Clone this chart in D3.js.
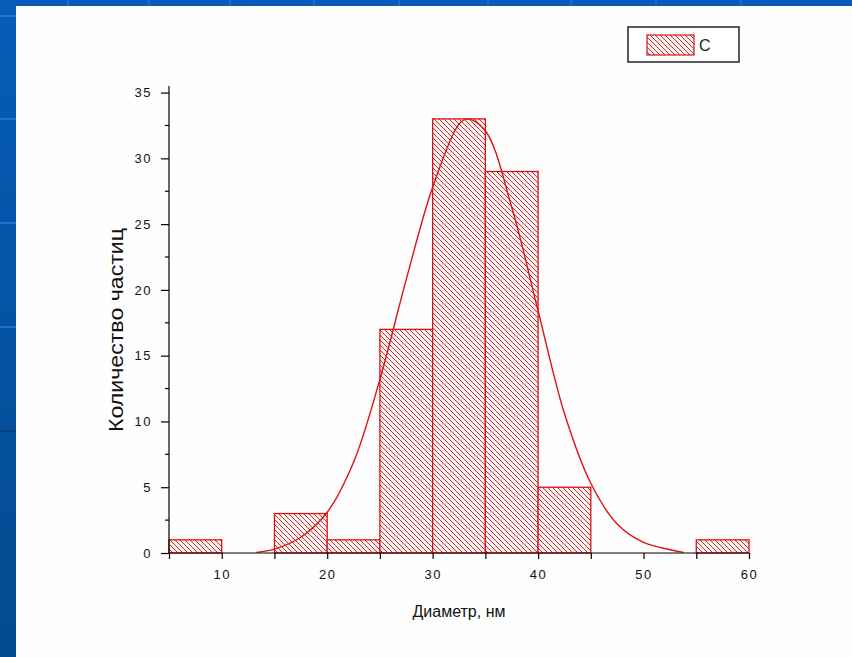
<!DOCTYPE html>
<html>
<head>
<meta charset="utf-8">
<script src="https://cdn.jsdelivr.net/npm/d3@7"></script>
<style>
  html, body { margin: 0; padding: 0; background: #0552a8; }
  svg { display: block; font-family: "Liberation Sans", Arial, sans-serif; }
</style>
</head>
<body>
<div id="chart"></div>
<script>
// histogram bins (left edge, right edge, count)
const binStarts = [5, 10, 15, 20, 25, 30, 35, 40, 45, 50, 55];
const binWidth = 5;
const counts = [1, 0, 3, 1, 17, 33, 29, 5, 0, 0, 1];

// fitted curve, points
const curveX = [13.3, 15, 17.5, 20, 22.5, 25, 27.5, 30, 32.5, 33.3, 35, 37.5, 40, 42.5, 45, 47.5, 50, 52.5, 53.8];
const curveY = [0.05, 0.3, 1.2, 3.1, 6.9, 13.2, 20.8, 27.8, 32.6, 33.0, 32.1, 26.3, 18.4, 10.6, 5.3, 2.2, 0.8, 0.25, 0.05];

const xTickLabels = [10, 20, 30, 40, 50, 60];
const yTickLabels = [0, 5, 10, 15, 20, 25, 30, 35];
const legendLabel = "C";
const xTitle = "Диаметр, нм";
const yTitle = "Количество частиц";

const W = 852, H = 657;
const RED = "#e01010";
const FONT = "\"Liberation Sans\", Arial, sans-serif";

const svg = d3.select("#chart").append("svg").attr("width", W).attr("height", H);
const defs = svg.append("defs");

// slide background
const bg = defs.append("linearGradient").attr("id", "bg").attr("x1", 0).attr("y1", 0).attr("x2", 0).attr("y2", 1);
bg.append("stop").attr("offset", "0%").attr("stop-color", "#065cb8");
bg.append("stop").attr("offset", "100%").attr("stop-color", "#044a8e");
svg.append("rect").attr("width", W).attr("height", H).attr("fill", "url(#bg)");
[15, 118, 222, 326].forEach(y => svg.append("rect").attr("x", 0).attr("y", y).attr("width", 16).attr("height", 2).attr("fill", "#1a74d2"));
svg.append("rect").attr("x", 0).attr("y", 430).attr("width", 16).attr("height", 2).attr("fill", "#033f7c");
[67, 148, 229, 313, 398, 487, 570, 655, 740].forEach(x => svg.append("rect").attr("x", x).attr("y", 0).attr("width", 2).attr("height", 6).attr("fill", "#1a6cc6"));
svg.append("rect").attr("x", 16).attr("y", 6).attr("width", W - 16).attr("height", H - 6).attr("fill", "#fefefe");

// hatch
const pat = defs.append("pattern").attr("id", "hatch").attr("patternUnits", "userSpaceOnUse")
  .attr("width", 5).attr("height", 5);
pat.append("rect").attr("width", 5).attr("height", 5).attr("fill", "#fff3f3");
pat.append("path").attr("d", "M0,0L5,5M-1,4L1,6M4,-1L6,1")
  .attr("stroke", "#b83434").attr("stroke-width", 1);

const x = d3.scaleLinear().domain([5, 60]).range([169, 749]);
const y = d3.scaleLinear().domain([0, 35.5]).range([553, 86]);

const g = svg.append("g");

// bars
g.selectAll("rect.bar").data(binStarts.map((s, i) => ({ s, c: counts[i] })).filter(d => d.c > 0))
  .join("rect").attr("class", "bar")
  .attr("x", d => x(d.s)).attr("width", d => x(d.s + binWidth) - x(d.s))
  .attr("y", d => y(d.c)).attr("height", d => y(0) - y(d.c))
  .attr("fill", "url(#hatch)").attr("stroke", RED).attr("stroke-width", 1.3);

// fit curve
const line = d3.line().x(d => x(d[0])).y(d => y(d[1])).curve(d3.curveCatmullRom.alpha(0.5));
g.append("path").datum(curveX.map((v, i) => [v, curveY[i]]))
  .attr("d", line).attr("fill", "none").attr("stroke", RED).attr("stroke-width", 1.4);

// axes
const xAxis = d3.axisBottom(x).tickValues(d3.range(5, 61, 5)).tickSize(6)
  .tickFormat(d => xTickLabels.includes(d) ? d : "");
const gx = svg.append("g").attr("transform", `translate(0,${y(0)})`).call(xAxis);
gx.select(".domain").attr("d", `M${x(5)},0H${x(60)}`).attr("stroke", "#000").attr("stroke-width", 1.2);
gx.selectAll(".tick line").attr("stroke", "#000").attr("stroke-width", 1.2);
gx.selectAll(".tick text").attr("dy", "1.3em").attr("font-size", 13).attr("fill", "#111")
  .attr("font-family", FONT).attr("letter-spacing", 1.5);

const yAxis = d3.axisLeft(y).tickValues(yTickLabels).tickSize(8).tickPadding(9)
  .tickFormat(d => d);
const gy = svg.append("g").attr("transform", `translate(${x(5)},0)`).call(yAxis);
gy.select(".domain").attr("d", `M0,${y(0)}V${y(35.5)}`).attr("stroke", "#000").attr("stroke-width", 1.2);
gy.selectAll(".tick line").attr("stroke", "#000").attr("stroke-width", 1.2);
gy.selectAll(".tick text").attr("font-size", 13).attr("fill", "#111")
  .attr("font-family", FONT).attr("letter-spacing", 1.5);
// minor y ticks
gy.selectAll("line.minor").data(d3.range(2.5, 35, 5)).join("line").attr("class", "minor")
  .attr("x1", -4).attr("x2", 0).attr("y1", d => y(d)).attr("y2", d => y(d))
  .attr("stroke", "#000").attr("stroke-width", 1.2);

// titles
svg.append("text").attr("x", 459).attr("y", 617).attr("text-anchor", "middle")
  .attr("font-size", 16).attr("fill", "#111").text(xTitle);
svg.append("text").attr("transform", `translate(123,330) rotate(-90)`).attr("text-anchor", "middle")
  .attr("font-size", 20).attr("textLength", 204).attr("lengthAdjust", "spacingAndGlyphs")
  .attr("fill", "#111").text(yTitle);

// legend
const lg = svg.append("g");
lg.append("rect").attr("x", 628).attr("y", 27).attr("width", 111).attr("height", 35)
  .attr("fill", "#fff").attr("stroke", "#333").attr("stroke-width", 1.6);
lg.append("rect").attr("x", 647).attr("y", 35).attr("width", 47).attr("height", 20)
  .attr("fill", "url(#hatch)").attr("stroke", RED).attr("stroke-width", 1.2);
lg.append("text").attr("x", 699).attr("y", 51).attr("font-size", 16).attr("fill", "#222").text(legendLabel);
</script>
</body>
</html>
